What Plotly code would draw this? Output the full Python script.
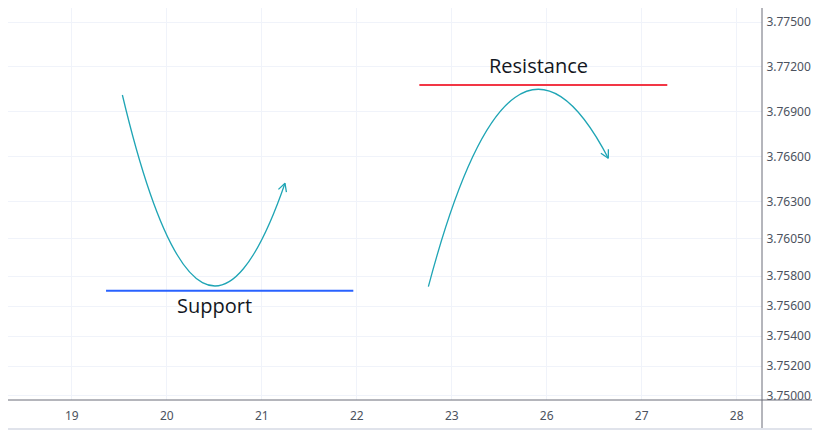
import numpy as np
import plotly.graph_objects as go

# x tick labels (category days), y tick values
x_labels = ['19', '20', '21', '22', '23', '26', '27', '28']
y_ticks = [3.75000, 3.75200, 3.75400, 3.75600, 3.75800, 3.76050,
           3.76300, 3.76600, 3.76900, 3.77200, 3.77500]

# curve drawings: start, control, end (x as index into x_labels)
support_curve_x = [0.533, 1.362, 2.245]
support_curve_y = [3.77012, 3.74799, 3.76422]
resist_curve_x = [3.754, 4.631, 5.648]
resist_curve_y = [3.75731, 3.77831, 3.76589]

support_level = 3.75704
support_span = [0.361, 2.964]
resist_level = 3.77079
resist_span = [3.659, 6.269]

curve_col = '#1fa5b5'
# page body has an 8px margin, so the figure is 8px smaller each way
W, H = 812, 422
ml, mr, mt, mb = 0, 58, 0, 30
xr = [-0.671, 7.266]
yr = [3.74973, 3.775936]
sx = (W - ml - mr) / (xr[1] - xr[0])
sy = (H - mt - mb) / (yr[1] - yr[0])


def chevron(xs, ys, length=9, ang=28):
    # arrowhead arms built in pixel space from the end tangent
    px = np.array([xs[-1] * sx, ys[-1] * sy])
    pp = np.array([xs[-2] * sx, ys[-2] * sy])
    d = (pp - px) / np.linalg.norm(pp - px)
    out_x, out_y = [], []
    for a in (ang, -ang):
        r = np.radians(a)
        v = np.array([d[0] * np.cos(r) - d[1] * np.sin(r), d[0] * np.sin(r) + d[1] * np.cos(r)])
        tip = px + v * length
        out_x += [tip[0] / sx, xs[-1]]
        out_y += [tip[1] / sy, ys[-1]]
    return [out_x[0], out_x[1], out_x[2]], [out_y[0], out_y[1], out_y[2]]


fig = go.Figure()

for cx, cy in [(support_curve_x, support_curve_y), (resist_curve_x, resist_curve_y)]:
    path = f'M {cx[0]},{cy[0]} Q {cx[1]},{cy[1]} {cx[2]},{cy[2]}'
    fig.add_shape(type='path', path=path, xref='x', yref='y',
                  line=dict(color=curve_col, width=1.3))
    ax, ay = chevron(cx, cy)
    fig.add_trace(go.Scatter(x=ax, y=ay, mode='lines', line=dict(color=curve_col, width=1.3),
                             hoverinfo='skip', showlegend=False))

fig.add_trace(go.Scatter(x=support_span, y=[support_level] * 2, mode='lines',
                         line=dict(color='#2962ff', width=2), showlegend=False))
fig.add_trace(go.Scatter(x=resist_span, y=[resist_level] * 2, mode='lines',
                         line=dict(color='#f23645', width=2), showlegend=False))

fig.add_annotation(x=np.mean(support_span) - 0.16, y=support_level, text='Support', showarrow=False,
                   yanchor='top', yshift=1, font=dict(size=20, color='#131722', family='Open Sans'))
fig.add_annotation(x=np.mean(resist_span) - 0.05, y=resist_level, text='Resistance', showarrow=False,
                   yanchor='bottom', yshift=4, font=dict(size=20, color='#131722', family='Open Sans'))

# axis lines that run past the plot area
ph = H - mt - mb
fig.add_shape(type='line', xref='paper', yref='paper', x0=1, x1=1, y0=-mb / ph, y1=1,
              line=dict(color='#6a6d78', width=1))
fig.add_shape(type='line', xref='paper', yref='paper', x0=0, x1=W / (W - ml - mr), y0=0, y1=0,
              line=dict(color='#6a6d78', width=1))
fig.add_shape(type='line', xref='paper', yref='paper', x0=0, x1=W / (W - ml - mr),
              y0=-(mb - 1) / ph, y1=-(mb - 1) / ph,
              line=dict(color='#e0e3eb', width=2))

fig.update_xaxes(range=xr, tickvals=list(range(len(x_labels))), ticktext=x_labels,
                 showgrid=True, gridcolor='#f0f3fa', zeroline=False, showline=False,
                 tickfont=dict(size=12, color='#4c525e', family='Noto Sans'),
                 ticks='outside', ticklen=5, tickcolor='rgba(0,0,0,0)')
fig.update_yaxes(range=yr, tickvals=y_ticks, ticktext=[f'{v:.5f}' for v in y_ticks], side='right',
                 showgrid=True, gridcolor='#f0f3fa', zeroline=False, showline=False,
                 tickfont=dict(size=12, color='#4c525e', family='Noto Sans'),
                 ticks='outside', ticklen=1, tickcolor='rgba(0,0,0,0)')

fig.update_layout(width=W, height=H, margin=dict(l=ml, r=mr, t=mt, b=mb),
                  plot_bgcolor='white', paper_bgcolor='white', showlegend=False)
fig.write_html('out.html')
